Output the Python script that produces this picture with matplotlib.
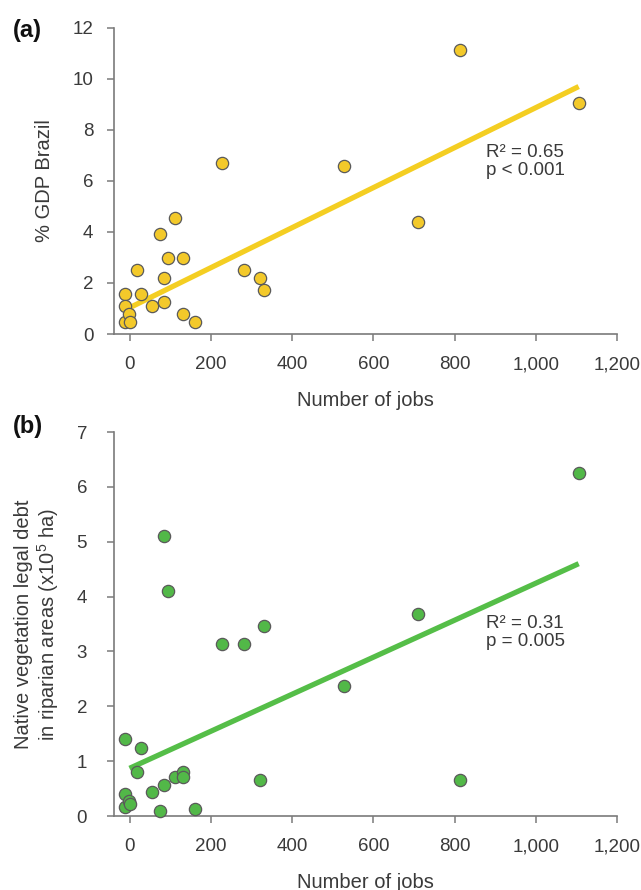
import matplotlib
matplotlib.use("Agg")
import matplotlib.pyplot as plt
from matplotlib.ticker import FuncFormatter

plt.rcParams['font.family'] = ['Liberation Sans', 'DejaVu Sans']
plt.rcParams['mathtext.fontset'] = 'custom'
plt.rcParams['mathtext.rm'] = 'Liberation Sans'
plt.rcParams['mathtext.it'] = 'Liberation Sans'

# Data
jobs = [-10, -10, -10, -1, 0, 19, 28, 56, 75, 85, 85, 94, 113, 132, 132, 161,
        227, 282, 321, 330, 528, 709, 812, 1105]
gdp = [1.56, 1.09, 0.46, 0.77, 0.46, 2.51, 1.56, 1.09, 3.93, 2.20, 1.24, 2.98,
       4.56, 2.98, 0.77, 0.46, 6.72, 2.51, 2.20, 1.73, 6.58, 4.40, 11.15, 9.07]
jobs_b = [-10, -10, -10, -1, 0, 19, 28, 56, 75, 85, 85, 94, 113, 132, 132, 161,
          227, 282, 321, 330, 528, 709, 812, 1105]
debt = [1.40, 0.40, 0.16, 0.28, 0.22, 0.81, 1.24, 0.43, 0.09, 5.10, 0.56, 4.10,
        0.72, 0.81, 0.72, 0.13, 3.13, 3.13, 0.66, 3.47, 2.37, 3.69, 0.66, 6.26]
fit_x = [0, 1105]
fit_a_y = [1.03, 9.70]
fit_b_y = [0.87, 4.60]
xticks = [0, 200, 400, 600, 800, 1000, 1200]
yticks_a = [0, 2, 4, 6, 8, 10, 12]
yticks_b = [0, 1, 2, 3, 4, 5, 6, 7]

yellow_fill = '#F3C92A'
yellow_line = '#F4CE22'
green_fill = '#52B848'
green_line = '#55BE48'
edge = '#5a5a5a'
spine_c = '#7a7a7a'
text_c = '#3a3a3a'

fig = plt.figure(figsize=(6.41, 8.90), dpi=100)
ax1 = fig.add_axes([0.178, 0.6247, 0.785, 0.344])
ax2 = fig.add_axes([0.178, 0.0831, 0.785, 0.4315])

fmt = FuncFormatter(lambda v, p: f"{int(v):,}")

def style(ax, yticks, ylim, ypad):
    ax.set_xlim(-38, 1200)
    ax.set_ylim(*ylim)
    ax.set_xticks(xticks)
    ax.set_yticks(yticks)
    ax.xaxis.set_major_formatter(fmt)
    for s in ['top', 'right']:
        ax.spines[s].set_visible(False)
    for s in ['left', 'bottom']:
        ax.spines[s].set_color(spine_c)
        ax.spines[s].set_linewidth(1.2)
    ax.tick_params(axis='both', direction='out', length=5, width=1.1,
                   color=spine_c, labelcolor=text_c, labelsize=13.5)
    ax.tick_params(axis='x', pad=11)
    ax.tick_params(axis='y', pad=ypad)
    ax.set_xlabel('Number of jobs', fontsize=14.5, color=text_c, labelpad=12.5)

style(ax1, yticks_a, (0, 12), 10)
style(ax2, yticks_b, (0, 7), 14.5)

ax1.plot(fit_x, fit_a_y, color=yellow_line, lw=3.8, solid_capstyle='butt', zorder=2)
ax1.scatter(jobs, gdp, s=78, facecolor=yellow_fill, edgecolor=edge, linewidth=0.9,
            zorder=3, clip_on=False)
ax1.text(876, 7.43, 'R² = 0.65\np < 0.001', fontsize=13.5, color=text_c,
         va='top', ha='left', linespacing=1.07)
ax1.set_ylabel('% GDP Brazil', fontsize=14.5, color=text_c, labelpad=13)

ax2.plot(fit_x, fit_b_y, color=green_line, lw=3.8, solid_capstyle='butt', zorder=2)
ax2.scatter(jobs_b, debt, s=78, facecolor=green_fill, edgecolor=edge, linewidth=0.9,
            zorder=3, clip_on=False)
ax2.text(876, 3.67, 'R² = 0.31\np = 0.005', fontsize=13.5, color=text_c,
         va='top', ha='left', linespacing=1.07)
ax2.set_ylabel('Native vegetation legal debt\nin riparian areas (x10$^{5}$ ha)',
               fontsize=14.5, color=text_c, labelpad=11.5, linespacing=1.1)

fig.text(0.02, 1 - 31 / 890, '(a)', fontsize=17, fontweight='bold', color='#111111',
         va='center', ha='left')
fig.text(0.02, 1 - 426 / 890, '(b)', fontsize=17, fontweight='bold', color='#111111',
         va='center', ha='left')

fig.savefig('out.png', dpi=100)
